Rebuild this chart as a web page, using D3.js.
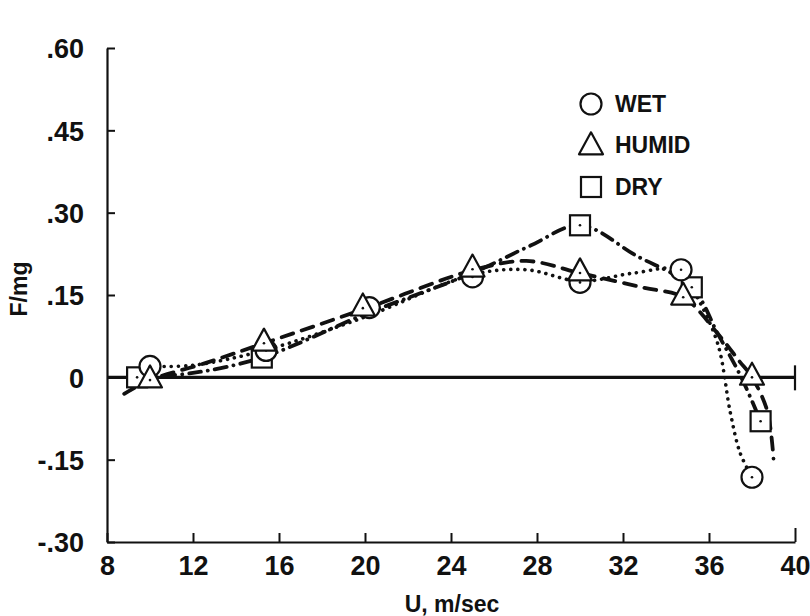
<!DOCTYPE html>
<html>
<head>
<meta charset="utf-8">
<script src="https://cdn.jsdelivr.net/npm/d3@7"></script>
<style>
  html, body { margin: 0; padding: 0; background: #fff; }
  svg { display: block; }
  text { font-family: "Liberation Sans", Arial, sans-serif; fill: #111; }
</style>
</head>
<body>
<svg id="chart" width="810" height="616"></svg>
<script>
// Lift ratio F/mg against wind speed U for three surface conditions.
const xTicks = [8, 12, 16, 20, 24, 28, 32, 36, 40];
const yTicks = [-0.30, -0.15, 0, 0.15, 0.30, 0.45, 0.60];

// Measured points (U in m/sec, F/mg)
const wetPoints   = [[10, 0.02], [15.4, 0.049], [20.2, 0.127], [25, 0.183], [30, 0.173], [34.7, 0.196], [38, -0.182]];
const humidPoints = [[10, -0.005], [15.3, 0.062], [19.9, 0.126], [25, 0.197], [30, 0.19], [34.8, 0.146], [38, 0.0]];
const dryPoints   = [[9.4, 0.0], [15.2, 0.036], [30, 0.277], [35.2, 0.164], [38.4, -0.08]];

// Faired curves through each set
const wetCurve   = [[10, 0.02], [12, 0.022], [15.4, 0.05], [20, 0.11], [25, 0.187], [27.5, 0.196], [30, 0.175], [32.5, 0.19], [34.7, 0.196], [35.4, 0.15], [36.4, 0.062], [37, -0.066], [37.45, -0.138], [38, -0.182]];
const humidCurve = [[8.8, -0.03], [10, -0.005], [12.5, 0.025], [15.3, 0.062], [20, 0.125], [25, 0.195], [27.5, 0.212], [30, 0.19], [33, 0.163], [34.8, 0.146], [36.4, 0.08], [37.4, 0.03], [38, 0.0], [38.7, -0.06], [39.0, -0.148]];
const dryCurve   = [[9.4, 0.0], [12, 0.008], [15.2, 0.036], [20, 0.115], [25, 0.19], [27.7, 0.24], [30, 0.277], [32.6, 0.222], [35.2, 0.164], [36.4, 0.08], [37.5, 0.0], [38.4, -0.08]];

const legendItems = ["WET", "HUMID", "DRY"];

const svg = d3.select("#chart");
const x = d3.scaleLinear().domain([8, 40]).range([107, 795]);
const y = d3.scaleLinear().domain([-0.30, 0.60]).range([542, 48]);

const fmtY = v => {
  if (Math.abs(v) < 1e-9) return "0";
  const s = Math.abs(v).toFixed(2).replace(/^0/, "");
  return (v < 0 ? "-" : "") + s;
};

// Y axis, ticks pointing into the plot
const yAxis = svg.append("g")
  .attr("transform", `translate(${x(8)},0)`)
  .call(d3.axisLeft(y).tickValues(yTicks).tickFormat(fmtY)
    .tickSizeInner(-8).tickSizeOuter(0).tickPadding(23));
yAxis.select(".domain").attr("stroke", "#111").attr("stroke-width", 2.2);
yAxis.selectAll(".tick line").attr("stroke", "#111").attr("stroke-width", 2);
yAxis.selectAll(".tick text")
  .style("font-size", "27px").style("font-weight", "bold").attr("dy", "0.36em");

// X axis along the bottom
const xAxis = svg.append("g")
  .attr("transform", `translate(0,${y(-0.30)})`)
  .call(d3.axisBottom(x).tickValues(xTicks).tickFormat(d3.format("d"))
    .tickSizeInner(-9).tickSizeOuter(0).tickPadding(16));
xAxis.select(".domain").attr("stroke", "#111").attr("stroke-width", 2.2);
xAxis.selectAll(".tick line").attr("stroke", "#111").attr("stroke-width", 2)
  .attr("y2", d => d === 40 ? -14 : -9);
xAxis.selectAll(".tick text")
  .style("font-size", "27px").style("font-weight", "bold").attr("dy", "0.62em");

// Zero reference line with end bar
svg.append("line")
  .attr("x1", x(8)).attr("x2", x(40)).attr("y1", y(0)).attr("y2", y(0))
  .attr("stroke", "#111").attr("stroke-width", 3.2);
svg.append("line")
  .attr("x1", x(40)).attr("x2", x(40)).attr("y1", y(0) - 12).attr("y2", y(0) + 13)
  .attr("stroke", "#111").attr("stroke-width", 2.2);

// Axis titles
svg.append("text")
  .attr("transform", `translate(27,${y(0.15) - 6}) rotate(-90)`)
  .attr("text-anchor", "middle")
  .style("font-size", "23px").style("font-weight", "bold")
  .text("F/mg");
svg.append("text")
  .attr("x", 452).attr("y", 612)
  .attr("text-anchor", "middle")
  .style("font-size", "23px").style("font-weight", "bold")
  .text("U, m/sec");

// Curves
const line = d3.line().x(d => x(d[0])).y(d => y(d[1])).curve(d3.curveCatmullRom.alpha(0.5));
const curveG = svg.append("g").attr("fill", "none").attr("stroke", "#111").attr("stroke-linecap", "round");
curveG.append("path").datum(wetCurve).attr("d", line)
  .attr("stroke-width", 3.6).attr("stroke-dasharray", "0.1 7");
curveG.append("path").datum(humidCurve).attr("d", line)
  .attr("stroke-width", 3.8).attr("stroke-dasharray", "12 9");
curveG.append("path").datum(dryCurve).attr("d", line)
  .attr("stroke-width", 3.8).attr("stroke-dasharray", "12 7 0.1 7");

// Marker shapes
const markerG = svg.append("g");
function drawSquare(g, cx, cy) {
  g.append("rect").attr("x", cx - 10).attr("y", cy - 10).attr("width", 20).attr("height", 20)
    .attr("fill", "#fff").attr("stroke", "#111").attr("stroke-width", 2.2);
}
function drawCircle(g, cx, cy) {
  g.append("circle").attr("cx", cx).attr("cy", cy).attr("r", 10.5)
    .attr("fill", "#fff").attr("stroke", "#111").attr("stroke-width", 2.2);
}
function drawTriangle(g, cx, cy) {
  const h = 22, w = 24;
  const pts = [[cx, cy - h * 2 / 3], [cx - w / 2, cy + h / 3], [cx + w / 2, cy + h / 3]];
  g.append("polygon").attr("points", pts.map(p => p.join(",")).join(" "))
    .attr("fill", "#fff").attr("stroke", "#111").attr("stroke-width", 2.2).attr("stroke-linejoin", "round");
}
function centerDot(g, cx, cy) {
  g.append("circle").attr("cx", cx).attr("cy", cy).attr("r", 1.3).attr("fill", "#111");
}
dryPoints.forEach(d => { const cx = x(d[0]), cy = y(d[1]); drawSquare(markerG, cx, cy); centerDot(markerG, cx, cy); });
wetPoints.forEach(d => { const cx = x(d[0]), cy = y(d[1]); drawCircle(markerG, cx, cy); centerDot(markerG, cx, cy); });
humidPoints.forEach(d => { const cx = x(d[0]), cy = y(d[1]); drawTriangle(markerG, cx, cy); centerDot(markerG, cx, cy); });

// Legend
const legend = svg.append("g");
const legendY = [104, 145, 187];
const drawers = [drawCircle, drawTriangle, drawSquare];
legendItems.forEach((name, i) => {
  drawers[i](legend, 591, legendY[i] + (i === 1 ? 2 : 0));
  legend.append("text").attr("x", 615).attr("y", legendY[i]).attr("dy", "0.36em")
    .style("font-size", "23px").style("font-weight", "bold").text(name);
});
</script>
</body>
</html>
